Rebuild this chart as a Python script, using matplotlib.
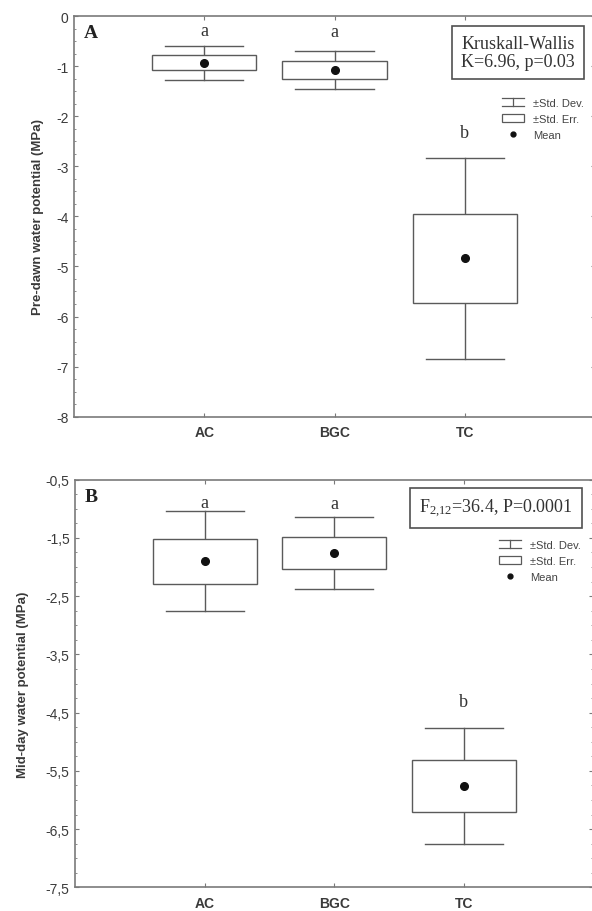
import numpy as np
import matplotlib
matplotlib.use("Agg")
from matplotlib import pyplot as plt
from matplotlib.lines import Line2D
from matplotlib.patches import Rectangle
from matplotlib.legend_handler import HandlerBase
from matplotlib.ticker import MultipleLocator, FuncFormatter

plt.rcParams['font.family'] = ['Liberation Sans', 'DejaVu Sans']
plt.rcParams['mathtext.fontset'] = 'custom'
plt.rcParams['mathtext.rm'] = 'Liberation Serif'
plt.rcParams['mathtext.it'] = 'Liberation Serif:italic'

groups = ["AC", "BGC", "TC"]

# panel A: pre-dawn water potential (MPa)
pd_mean = [-0.93, -1.08, -4.84]
pd_se = [0.15, 0.18, 0.89]
pd_sd = [0.34, 0.38, 2.01]
pd_letters = ["a", "a", "b"]

# panel B: mid-day water potential (MPa)
md_mean = [-1.90, -1.76, -5.76]
md_se = [0.385, 0.27, 0.45]
md_sd = [0.86, 0.62, 1.00]
md_letters = ["a", "a", "b"]

LINE = '#5a5a5a'
SPINE = '#7a7a7a'
TXT = '#3a3a3a'


class HandlerSD(HandlerBase):
    def create_artists(self, legend, orig_handle, xdescent, ydescent,
                       width, height, fontsize, trans):
        x0 = -xdescent
        x1 = x0 + width
        xm = (x0 + x1) / 2
        y0 = -ydescent
        y1 = y0 + height
        out = []
        for xs, ys in [([x0, x1], [y1, y1]), ([x0, x1], [y0, y0]), ([xm, xm], [y0, y1])]:
            l = Line2D(xs, ys, color=LINE, lw=0.9)
            l.set_transform(trans)
            out.append(l)
        return out


def panel(ax, mean, se, sd, letters, letter_off, ylim, major, fmt,
          tag, ylabel, stat_text, stat_pos, leg_pos, ylab_x):
    x = np.arange(1, len(groups) + 1)
    for xi, m, e, s, let, off in zip(x, mean, se, sd, letters, letter_off):
        # whiskers (SD)
        ax.plot([xi, xi], [m + e, m + s], color=LINE, lw=1.0, zorder=2)
        ax.plot([xi, xi], [m - e, m - s], color=LINE, lw=1.0, zorder=2)
        ax.plot([xi - 0.3, xi + 0.3], [m + s, m + s], color=LINE, lw=1.0, zorder=2)
        ax.plot([xi - 0.3, xi + 0.3], [m - s, m - s], color=LINE, lw=1.0, zorder=2)
        # box (SE)
        ax.add_patch(Rectangle((xi - 0.4, m - e), 0.8, 2 * e, facecolor='white',
                               edgecolor=LINE, lw=1.0, zorder=3))
        ax.plot([xi], [m], 'o', color='#111111', ms=5.5, zorder=4)
        ax.annotate(let, (xi, m + s), xytext=(0, off), textcoords='offset points',
                    ha='center', va='center', fontsize=13, color='#333333',
                    family='Liberation Serif')

    ax.set_xlim(0, 4)
    ax.set_ylim(*ylim)
    ax.set_xticks(x)
    ax.set_xticklabels(groups, fontweight='bold', fontsize=10, color=TXT)
    ax.yaxis.set_major_locator(MultipleLocator(1))
    ax.yaxis.set_minor_locator(MultipleLocator(0.25))
    ax.yaxis.set_major_formatter(FuncFormatter(fmt))
    ax.set_yticks(major)
    ax.tick_params(axis='both', which='both', direction='in', top=True, right=True,
                   colors=SPINE, labelcolor=TXT)
    ax.tick_params(axis='y', which='major', length=3, labelsize=10, pad=4)
    ax.tick_params(axis='y', which='minor', length=1.5)
    ax.tick_params(axis='x', which='major', length=3, pad=6)
    for sp in ax.spines.values():
        sp.set_color(SPINE)
        sp.set_linewidth(1.2)

    ax.set_ylabel(ylabel, fontweight='bold', fontsize=9.5, color=TXT)
    ax.yaxis.set_label_coords(ylab_x, 0.5)

    ax.text(0.018, 0.96, tag, transform=ax.transAxes, ha='left', va='center',
            fontsize=14, fontweight='bold', family='Liberation Serif', color='#222222')

    ax.text(stat_pos[0], stat_pos[1], stat_text, transform=ax.transAxes,
            ha='center', va='center', fontsize=13, family='Liberation Serif',
            color='#333333', linespacing=1.1,
            bbox=dict(boxstyle='square,pad=0.5', facecolor='white',
                      edgecolor='#505050', lw=1.2))

    sd_handle = Line2D([], [])
    se_handle = Rectangle((0, 0), 1, 1, facecolor='white', edgecolor=LINE, lw=0.9)
    mean_handle = Line2D([], [], marker='o', ls='none', color='#111111', ms=3.5)
    leg = ax.legend([sd_handle, se_handle, mean_handle],
                    ['\u00b1Std. Dev.', '\u00b1Std. Err.', 'Mean'],
                    handler_map={sd_handle: HandlerSD()},
                    loc='upper left', bbox_to_anchor=leg_pos, frameon=False,
                    fontsize=8, handlelength=2.0, handleheight=0.7,
                    handletextpad=0.8, labelspacing=0.55, borderpad=0,
                    borderaxespad=0)
    for t in leg.get_texts():
        t.set_color('#444444')


fig = plt.figure(figsize=(5.92, 9.12), dpi=100)
W, H = 592.0, 912.0

axA = fig.add_axes([74.0 / W, 1 - 417.7 / H, 521.0 / W, 400.7 / H])
axB = fig.add_axes([75.2 / W, 1 - 888.3 / H, 518.0 / W, 407.6 / H])

panel(axA, pd_mean, pd_se, pd_sd, pd_letters, [10.8, 14.4, 18.3],
      (-8, 0), np.arange(-8, 0.5, 1), lambda v, p: '%d' % round(v),
      'A', 'Pre-dawn water potential (MPa)',
      'Kruskall-Wallis\nK=6.96, p=0.03', (0.852, 0.909), (0.8215, 0.796), -0.058)

panel(axB, md_mean, md_se, md_sd, md_letters, [6.3, 10.0, 19.2],
      (-7.5, -0.5), np.arange(-7.5, 0, 1), lambda v, p: ('%.1f' % v).replace('.', ','),
      'B', 'Mid-day water potential (MPa)',
      'F$_{2{,}12}$=36.4, P=0.0001', (0.813, 0.9306), (0.818, 0.852), -0.090)

fig.savefig('out.png', dpi=100)
